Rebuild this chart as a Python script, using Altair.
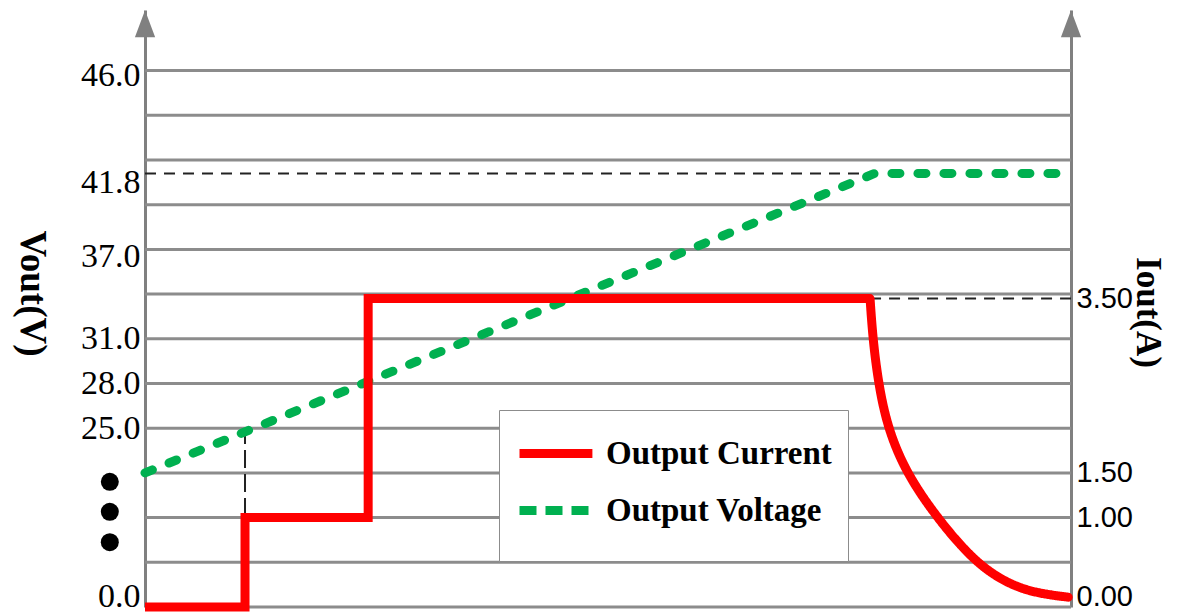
import json
import altair as alt
import pandas as pd

# ---------------- data (grid-level units) ----------------
grid_levels = list(range(13))

left_tick_pos = [0.24, 4, 5, 6, 7.85, 9.5, 11.9]
left_tick_text = ["0.0", "25.0", "28.0", "31.0", "37.0", "41.8", "46.0"]
right_tick_pos = [0.24, 2, 3, 6.9]
right_tick_text = ["0.00", "1.00", "1.50", "3.50"]

volt_t = [0, 78.8, 99.4]
volt_v = [3.0, 9.7, 9.7]

cur_step_t = [0, 10.8, 10.8, 24.1, 24.1, 78.3]
cur_step_i = [0, 0, 2, 2, 6.9, 6.9]
cur_decay_t = [78.3, 78.6, 79.2, 80.2, 82.2, 85.5, 89.6, 93.3, 96.5, 99.7]
cur_decay_i = [6.9, 6.0, 5.0, 4.0, 3.0, 2.0, 1.0, 0.5, 0.3, 0.22]

ref_h_t1 = [0, 78.3]
ref_h_t2 = [78.8, 100]
ref_h_y = [9.7, 6.9]
ref_v_t = [10.8]
ref_v_y1 = [1.5]
ref_v_y2 = [3.96]

arrow_t = [0, 100]
arrow_y = [13.05, 13.05]
dots_t = [-3.8, -3.8, -3.8]
dots_y = [2.8, 2.13, 1.45]

series_names = ["Output Current", "Output Voltage"]

# ---------------- tables ----------------
df_grid = pd.DataFrame({"level": grid_levels})
df_v = pd.DataFrame({"t": volt_t, "y": volt_v, "series": series_names[1]})
df_cs = pd.DataFrame({"t": cur_step_t, "y": cur_step_i, "series": series_names[0]})
df_cd = pd.DataFrame({"t": cur_decay_t, "y": cur_decay_i, "series": series_names[0]})
df_rh = pd.DataFrame({"t1": ref_h_t1, "t2": ref_h_t2, "y": ref_h_y})
df_rv = pd.DataFrame({"t": ref_v_t, "y1": ref_v_y1, "y2": ref_v_y2})
df_arrow = pd.DataFrame({"t": arrow_t, "y": arrow_y})
df_dots = pd.DataFrame({"t": dots_t, "y": dots_y})

W, H = 926, 597
YMAX = 13.356

xs = alt.Scale(domain=[0, 100], nice=False, zero=False)
ys = alt.Scale(domain=[0, YMAX], nice=False, zero=False)

color_scale = alt.Scale(domain=series_names, range=["#ff0000", "#00b050"])
# dash scale used for the legend symbols (and the solid current line)
dash_scale = alt.Scale(domain=series_names, range=[[1, 0], [17, 9]])


def label_expr(pos, text):
    return f"{json.dumps(text)}[indexof({json.dumps(pos)}, datum.value)]"


axis_common = dict(
    domainColor="#808080", domainWidth=3, ticks=False, grid=False,
    labelPadding=5, labelColor="black", labelOverlap=False, labelFlush=False,
    titleColor="black", titleFont="Liberation Serif", titleFontWeight="bold",
    titleAngle=90, titleAlign="center", titleBaseline="middle",
)

left_axis = alt.Axis(
    orient="left", values=left_tick_pos, labelExpr=label_expr(left_tick_pos, left_tick_text),
    labelFont="Liberation Serif", labelFontSize=34, title="Vout(V)", titleFontSize=37,
    titleX=-114, titleY=283, **axis_common,
)
right_axis = alt.Axis(
    orient="right", values=right_tick_pos, labelExpr=label_expr(right_tick_pos, right_tick_text),
    labelFont="Liberation Sans", labelFontSize=29, title="Iout(A)", titleFontSize=35,
    titleX=76, titleY=302, **axis_common,
)


def X(f):
    return alt.X(f, type="quantitative", scale=xs, axis=None)


def Ynone(f):
    return alt.Y(f, type="quantitative", scale=ys, axis=None)


legend = alt.Legend(title=" ", titleOrient="bottom", titleFontSize=10, titlePadding=6)

grid = alt.Chart(df_grid).mark_rule(color="#8c8c8c", strokeWidth=3).encode(
    y=alt.Y("level:Q", scale=ys, axis=left_axis)
)

ref_h = alt.Chart(df_rh).mark_rule(color="#222222", strokeWidth=2, strokeDash=[11, 8]).encode(
    x=X("t1"), x2="t2", y=Ynone("y")
)
ref_v = alt.Chart(df_rv).mark_rule(color="#222222", strokeWidth=2, strokeDash=[18, 6]).encode(
    x=X("t"), y=Ynone("y1"), y2="y2"
)

volt = alt.Chart(df_v).mark_line(
    strokeWidth=9, strokeCap="round", strokeJoin="round", strokeDash=[8, 18]
).encode(
    x=X("t"), y=Ynone("y"),
    color=alt.Color("series:N", scale=color_scale, legend=legend),
)

arrows = alt.Chart(df_arrow).mark_point(
    shape="M-0.75,1L0,-1L0.75,1Z", size=729, filled=True, color="#808080", opacity=1
).encode(x=X("t"), y=Ynone("y"))

dots = alt.Chart(df_dots).mark_point(
    shape="circle", size=324, filled=True, color="black", opacity=1
).encode(x=X("t"), y=Ynone("y"))

cur_step = alt.Chart(df_cs).mark_line(strokeWidth=9, strokeJoin="miter").encode(
    x=X("t"), y=alt.Y("y:Q", scale=ys, axis=right_axis),
    color=alt.Color("series:N", scale=color_scale, legend=legend),
    strokeDash=alt.StrokeDash("series:N", scale=dash_scale, legend=legend),
)
cur_decay = alt.Chart(df_cd).mark_line(strokeWidth=9, strokeCap="round", interpolate="basis").encode(
    x=X("t"), y=Ynone("y"),
    color=alt.Color("series:N", scale=color_scale, legend=legend),
    strokeDash=alt.StrokeDash("series:N", scale=dash_scale, legend=legend),
)

chart = (
    alt.layer(grid, ref_h, ref_v, volt, arrows, dots, cur_step, cur_decay)
    .resolve_scale(y="independent")
    .properties(
        width=W, height=H,
        padding={"left": 137, "top": 2, "right": 99, "bottom": 8},
        autosize=alt.AutoSizeParams(type="none"),
        background="white",
    )
    .configure_view(strokeWidth=0)
    .configure_legend(
        orient="none", legendX=354, legendY=400, padding=16, rowPadding=11,
        labelOffset=36, symbolSize=2116, symbolType="M-1,0L2.17,0", symbolStrokeWidth=9,
        strokeColor="#8c8c8c", fillColor="white", cornerRadius=0,
        labelFont="Liberation Serif", labelFontSize=33, labelFontWeight="bold",
        labelColor="black", labelLimit=500,
    )
)

chart.save("out.html", embed_options={"renderer": "svg", "actions": False})
